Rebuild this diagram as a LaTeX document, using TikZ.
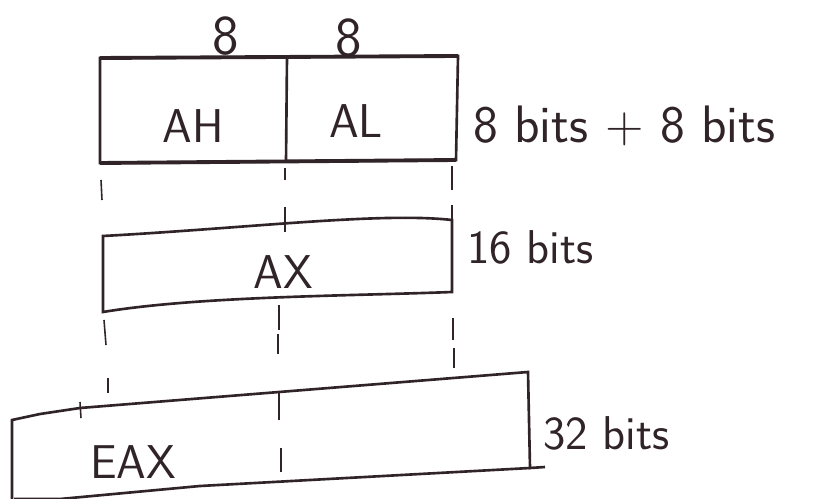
\documentclass[tikz,border=0pt]{standalone}
\usetikzlibrary{positioning}
\definecolor{pencil}{RGB}{48,36,40}

\begin{document}
\begin{tikzpicture}[x=0.02cm, y=-0.02cm, line width=1.5pt, draw=pencil,
    lbl/.style={text=pencil, font=\sffamily\fontsize{27}{30}\selectfont},
    guide/.style={line width=0.9pt}]
    \useasboundingbox (0,0) rectangle (827,499);
    % AH | AL : two halves of 8 bits
    \coordinate (ahtl) at (100,58);
    \coordinate (altr) at (458,56);
    \coordinate (albr) at (456,160);
    \coordinate (ahbl) at (100,163);
    \draw (ahtl) -- (altr) -- (albr) -- (ahbl) -- cycle;
    \draw[line width=2.2pt] (ahtl) -- (altr);
    \draw[line width=2.2pt] (ahbl) -- (albr);
    \draw (287,57) -- (286,162);
    \node[lbl] (ah) at (193,126) {AH};
    \node[lbl] (al) at (356,121) {AL};
    \node[lbl, font=\sffamily\fontsize{32}{34}\selectfont] (eighta) at (226,36) {8};
    \node[lbl, font=\sffamily\fontsize{32}{34}\selectfont] (eightb) at (349,38) {8};
    \node[lbl, anchor=west, font=\sffamily\fontsize{30}{33}\selectfont] (sumlbl) at (466,126) {8 bits + 8 bits};
    % guides from AH/AL down to AX
    \draw[guide] (101,180) -- (102,200);
    \draw[guide] (285,168) -- (285,180);
    \draw[guide] (452,166) -- (452,190);
    \draw[guide] (285,207) -- (285,232);
    % AX : 16 bits, a little slanted
    \coordinate (axtl) at (103,236);
    \coordinate (axtr) at (452,220);
    \coordinate (axbr) at (452,292);
    \coordinate (axbl) at (103,312);
    \draw (axtl) .. controls (250,228) and (380,212) .. (axtr)
          -- (axbr) .. controls (350,296) and (200,296) .. (axbl) -- cycle;
    \draw (452,205) -- (axtr);
    \node[lbl] (ax) at (283,272) {AX};
    \node[lbl, anchor=west] (axlbl) at (460,247) {16 bits};
    % guides from AX down to EAX
    \draw[guide] (104,320) -- (106,345);
    \draw[guide] (279,305) -- (279,330);
    \draw[guide] (453,318) -- (453,340);
    \draw[guide] (454,348) -- (454,368);
    \draw[guide] (108,378) -- (108,393);
    \draw[guide] (278,334) -- (278,354);
    % EAX : 32 bits
    \coordinate (eaxtl) at (12,420);
    \coordinate (eaxtr) at (528,372);
    \coordinate (eaxbr) at (530,468);
    \coordinate (eaxbl) at (60,499);
    \draw (12,499) -- (eaxtl) -- (40,414) -- (80,408) -- (eaxtr) -- (eaxbr)
          -- (545,467);
    \draw (eaxbr) -- (200,486) -- (eaxbl) -- (14,499);
    \draw[guide] (80,402) -- (81,418);
    \draw[guide] (279,393) -- (279,420);
    \draw[guide] (281,448) -- (281,472);
    \node[lbl] (eax) at (133,462) {EAX};
    \node[lbl, anchor=west] (eaxlbl) at (536,433) {32 bits};
\end{tikzpicture}
\end{document}
